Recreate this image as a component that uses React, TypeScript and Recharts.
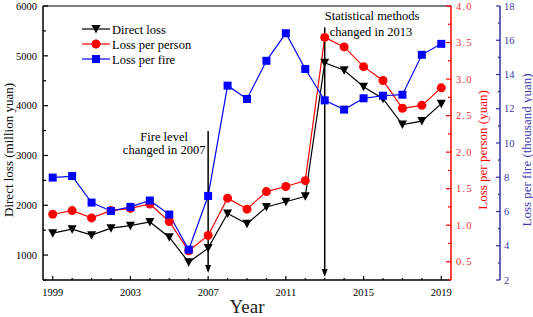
import { ComposedChart, Line, XAxis, YAxis, ReferenceLine, Legend, Label } from "recharts"

const years = [1999, 2000, 2001, 2002, 2003, 2004, 2005, 2006, 2007, 2008, 2009, 2010, 2011, 2012, 2013, 2014, 2015, 2016, 2017, 2018, 2019]
const directLoss = [1440, 1520, 1400, 1540, 1590, 1665, 1360, 855, 1140, 1835, 1630, 1965, 2070, 2180, 4860, 4710, 4380, 4140, 3620, 3690, 4040]
const lossPerPerson = [1.15, 1.2, 1.1, 1.2, 1.23, 1.29, 1.05, 0.65, 0.86, 1.37, 1.22, 1.46, 1.53, 1.61, 3.57, 3.44, 3.17, 2.98, 2.6, 2.64, 2.88]
const lossPerFire = [7.98, 8.07, 6.52, 6.03, 6.27, 6.64, 5.82, 3.77, 6.91, 13.35, 12.57, 14.8, 16.41, 14.32, 12.49, 11.95, 12.61, 12.76, 12.82, 15.15, 15.79]

const yearLabels = [1999, 2003, 2007, 2011, 2015, 2019]
const lossTicks = [500, 1000, 1500, 2000, 2500, 3000, 3500, 4000, 4500, 5000, 5500, 6000]
const personTicks = [0.25, 0.5, 0.75, 1, 1.25, 1.5, 1.75, 2, 2.25, 2.5, 2.75, 3, 3.25, 3.5, 3.75, 4]
const fireTicks = [2, 3, 4, 5, 6, 7, 8, 9, 10, 11, 12, 13, 14, 15, 16, 17, 18]

const data = years.map((year, i) => ({
  year,
  directLoss: directLoss[i],
  lossPerPerson: lossPerPerson[i],
  lossPerFire: lossPerFire[i],
}))

const SERIF = "'Liberation Serif', 'Times New Roman', serif"
const RED = "#ff0000"
const BLUE = "#0000ff"
const AXIS_BLUE = "#2f2fa0"

function YearTick(props: any) {
  const { x, y, payload } = props
  const major = yearLabels.includes(payload.value)
  return (
    <g>
      <line x1={x} x2={x} y1={y} y2={y - (major ? 4 : 2)} stroke="#000" strokeWidth={1.2} />
      {major && (
        <text x={x} y={y + 16} textAnchor="middle" fontSize={10.5} fontFamily={SERIF} fill="#000">
          {payload.value}
        </text>
      )}
    </g>
  )
}

function LossTick(props: any) {
  const { x, y, payload } = props
  const major = payload.value % 1000 === 0
  return (
    <g>
      <line x1={x} x2={x + (major ? 5 : 3)} y1={y} y2={y} stroke="#000" strokeWidth={1.2} />
      {major && (
        <text x={x - 6} y={y + 3.7} textAnchor="end" fontSize={10.5} fontFamily={SERIF} fill="#000">
          {payload.value}
        </text>
      )}
    </g>
  )
}

function PersonTick(props: any) {
  const { x, y, payload } = props
  const major = Math.abs(payload.value * 2 - Math.round(payload.value * 2)) < 1e-6
  return (
    <g>
      <line x1={x} x2={x - (major ? 5 : 3)} y1={y} y2={y} stroke={RED} strokeWidth={1.2} />
      {major && (
        <text x={x + 5} y={y + 3.7} textAnchor="start" fontSize={10.5} letterSpacing={1.2} fontFamily={SERIF} fill="#f03030">
          {payload.value.toFixed(1)}
        </text>
      )}
    </g>
  )
}

function FireTick(props: any) {
  const { x, y, payload } = props
  const major = payload.value % 2 === 0
  return (
    <g>
      <line x1={x} x2={x - (major ? 4 : 2)} y1={y} y2={y} stroke={AXIS_BLUE} strokeWidth={1.2} />
      {major && (
        <text x={x + 4} y={y + 3.7} textAnchor="start" fontSize={10.5} fontFamily={SERIF} fill="#3a3aa8">
          {payload.value}
        </text>
      )}
    </g>
  )
}

function TriangleDot(props: any) {
  const { cx, cy } = props
  if (cx == null || cy == null) return null
  return <polygon points={`${cx - 4.5},${cy - 4} ${cx + 4.5},${cy - 4} ${cx},${cy + 4.5}`} fill="#000" />
}

function CircleDot(props: any) {
  const { cx, cy } = props
  if (cx == null || cy == null) return null
  return <circle cx={cx} cy={cy} r={4.5} fill={RED} />
}

function SquareDot(props: any) {
  const { cx, cy } = props
  if (cx == null || cy == null) return null
  return <rect x={cx - 4} y={cy - 4} width={8} height={8} fill={BLUE} />
}

function AxisTitle({ viewBox, text, dx, color }: any) {
  const cx = viewBox.x + dx
  const cy = 150
  return (
    <text
      x={cx}
      y={cy}
      transform={`rotate(-90, ${cx}, ${cy})`}
      textAnchor="middle"
      dominantBaseline="central"
      fontSize={13}
      fontFamily={SERIF}
      fill={color}
    >
      {text}
    </text>
  )
}

function ArrowLine(props: any) {
  const { x1, y1, x2, y2, lines, textDx, textAnchor, textDy } = props
  return (
    <g>
      <line x1={x1} y1={y1} x2={x2} y2={y2 - 6} stroke="#000" strokeWidth={1.5} />
      <polygon points={`${x2 - 3},${y2 - 8} ${x2 + 3},${y2 - 8} ${x2},${y2}`} fill="#000" />
      {lines.map((t: string, i: number) => (
        <text
          key={t}
          x={x1 + textDx[i]}
          y={y1 + textDy[i]}
          textAnchor={textAnchor}
          fontSize={12.5}
          fontFamily={SERIF}
          fill="#000"
        >
          {t}
        </text>
      ))}
    </g>
  )
}

const legendItems = [
  { name: "Direct loss", color: "#000", Dot: TriangleDot },
  { name: "Loss per person", color: RED, Dot: CircleDot },
  { name: "Loss per fire", color: BLUE, Dot: SquareDot },
]

function LegendBox() {
  return (
    <svg width={130} height={46}>
      {legendItems.map((item, i) => {
        const y = 8 + i * 15
        return (
          <g key={item.name}>
            <line x1={1} x2={29} y1={y} y2={y} stroke={item.color} strokeWidth={1.2} />
            <item.Dot cx={15} cy={y} />
            <text x={31} y={y + 4.5} fontSize={12.5} fontFamily={SERIF} fill="#000">
              {item.name}
            </text>
          </g>
        )
      })}
    </svg>
  )
}

export default function App() {
  return (
    <div style={{ position: "absolute", left: 0, top: 0, background: "#fff" }}>
      <ComposedChart width={533} height={317} data={data} margin={{ top: 6, right: 0, left: 0, bottom: 0 }}>
        <XAxis
          dataKey="year"
          type="number"
          domain={[1998.5, 2019.5]}
          ticks={years}
          interval={0}
          tickSize={0}
          tickMargin={0}
          tickLine={false}
          tick={<YearTick />}
          height={37}
          axisLine={{ stroke: "#000", strokeWidth: 1.5 }}
        >
          <Label value="Year" position="insideBottom" offset={4} fontSize={19} fontFamily={SERIF} fill="#222" />
        </XAxis>
        <YAxis
          yAxisId="left"
          domain={[500, 6000]}
          ticks={lossTicks}
          interval={0}
          width={43}
          tickSize={0}
          tickMargin={0}
          tickLine={false}
          tick={<LossTick />}
          axisLine={{ stroke: "#000", strokeWidth: 1.5 }}
        >
          <Label content={(p: any) => <AxisTitle {...p} text="Direct loss (million yuan)" dx={8} color="#000" />} />
        </YAxis>
        <YAxis
          yAxisId="r1"
          orientation="right"
          domain={[0.25, 4]}
          ticks={personTicks}
          interval={0}
          width={49}
          tickSize={0}
          tickMargin={0}
          tickLine={false}
          tick={<PersonTick />}
          axisLine={{ stroke: RED, strokeWidth: 1.5 }}
        >
          <Label content={(p: any) => <AxisTitle {...p} text="Loss per person (yuan)" dx={31} color={RED} />} />
        </YAxis>
        <YAxis
          yAxisId="r2"
          orientation="right"
          domain={[2, 18]}
          ticks={fireTicks}
          interval={0}
          width={33}
          tickSize={0}
          tickMargin={0}
          tickLine={false}
          tick={<FireTick />}
          axisLine={{ stroke: AXIS_BLUE, strokeWidth: 1.5 }}
        >
          <Label content={(p: any) => <AxisTitle {...p} text="Loss per fire (thousand yuan)" dx={26} color="#3a3ab0" />} />
        </YAxis>
        <ReferenceLine yAxisId="left" y={6000} stroke="#555" strokeWidth={1.5} />
        <Line yAxisId="left" dataKey="directLoss" stroke="#000" strokeWidth={1.2} dot={<TriangleDot />} isAnimationActive={false} />
        <Line yAxisId="r1" dataKey="lossPerPerson" stroke={RED} strokeWidth={1.2} dot={<CircleDot />} isAnimationActive={false} />
        <Line yAxisId="r2" dataKey="lossPerFire" stroke={BLUE} strokeWidth={1.2} dot={<SquareDot />} isAnimationActive={false} />
        <ReferenceLine
          yAxisId="left"
          segment={[{ x: 2007, y: 3490 }, { x: 2007, y: 640 }]}
          shape={(p: any) => (
            <ArrowLine
              {...p}
              lines={["Fire level", "changed in 2007"]}
              textDx={[-44, -44]}
              textDy={[9.5, 23]}
              textAnchor="middle"
            />
          )}
        />
        <ReferenceLine
          yAxisId="left"
          segment={[{ x: 2013, y: 5570 }, { x: 2013, y: 560 }]}
          shape={(p: any) => (
            <ArrowLine
              {...p}
              lines={["Statistical methods", "changed in 2013"]}
              textDx={[0, 5]}
              textDy={[-7, 8.5]}
              textAnchor="start"
            />
          )}
        />
        <Legend
          layout="vertical"
          align="center"
          verticalAlign="middle"
          content={() => <LegendBox />}
          wrapperStyle={{ top: 21, left: 81, width: 130, height: 46 }}
        />
      </ComposedChart>
    </div>
  )
}
